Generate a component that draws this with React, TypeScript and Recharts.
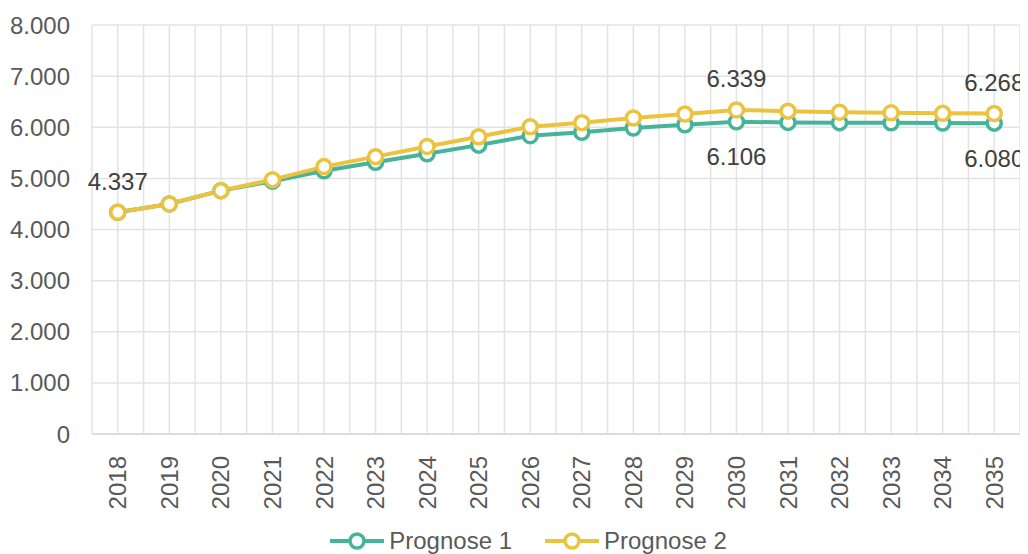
import React from 'react';
import { LineChart, Line, XAxis, YAxis, CartesianGrid, Legend, LabelList } from 'recharts';

const years = ['2018', '2019', '2020', '2021', '2022', '2023', '2024', '2025', '2026', '2027', '2028', '2029', '2030', '2031', '2032', '2033', '2034', '2035'];
const prognose1 = [4337, 4500, 4760, 4945, 5150, 5315, 5480, 5650, 5835, 5900, 5985, 6050, 6106, 6095, 6090, 6086, 6083, 6080];
const prognose2 = [4337, 4500, 4760, 4975, 5230, 5425, 5625, 5815, 6010, 6090, 6180, 6260, 6339, 6315, 6295, 6282, 6273, 6268];
const yTicks = [0, 1000, 2000, 3000, 4000, 5000, 6000, 7000, 8000];
const labelsAbove2 = [0, 12, 17];
const labelsBelow1 = [12, 17];

const GREEN = '#46B49A';
const YELLOW = '#EBC33F';
const TEXT = '#595959';
const GRID = '#E3E3E3';
const FONT = '"Liberation Sans", Arial, sans-serif';
const FS = 24;

const data = years.map((y, i) => ({ year: y, p1: prognose1[i], p2: prognose2[i] }));

const fmt = (v: number) => {
  const s = Math.round(v).toString();
  return s.replace(/\B(?=(\d{3})+(?!\d))/g, '.');
};

const XTick = (props: any) => {
  const { x, y, payload } = props;
  return (
    <text
      x={x}
      y={y + 14}
      transform={`rotate(-90, ${x}, ${y + 14})`}
      textAnchor="end"
      dominantBaseline="central"
      fill={TEXT}
      fontSize={FS}
      fontFamily={FONT}
    >
      {payload.value}
    </text>
  );
};

const makeLabel = (indices: number[], dy: number) => (props: any) => {
  const { x, y, value, index } = props;
  if (!indices.includes(index)) return null;
  return (
    <text
      x={x}
      y={y + dy}
      textAnchor="middle"
      dominantBaseline="central"
      fill="#404040"
      fontSize={FS}
      fontFamily={FONT}
    >
      {fmt(value)}
    </text>
  );
};

const LegendContent = () => {
  const items = [
    { name: 'Prognose 1', color: GREEN },
    { name: 'Prognose 2', color: YELLOW },
  ];
  return (
    <div style={{ display: 'flex', justifyContent: 'center', alignItems: 'center', height: 30, boxSizing: 'border-box', paddingTop: 4, fontFamily: FONT, fontSize: FS, color: TEXT, paddingLeft: 28 }}>
      {items.map((it, i) => (
        <div key={it.name} style={{ display: 'flex', alignItems: 'center', marginLeft: i === 0 ? 0 : 32 }}>
          <svg width={56} height={20} style={{ marginRight: 4 }}>
            <line x1={1} y1={10} x2={55} y2={10} stroke={it.color} strokeWidth={4} />
            <circle cx={28} cy={10} r={7} fill="#fff" stroke={it.color} strokeWidth={3.5} />
          </svg>
          <span>{it.name}</span>
        </div>
      ))}
    </div>
  );
};

export default function App() {
  return (
    <div style={{ width: 1020, height: 546 }}>
      <LineChart width={1020} height={546} data={data} margin={{ top: 17, right: 8, bottom: 0, left: 0 }}>
        <CartesianGrid
          stroke={GRID}
          strokeWidth={1.5}
          verticalCoordinatesGenerator={({ offset }: any) =>
            Array.from({ length: years.length * 2 + 1 }, (_, i) => offset.left + (i * offset.width) / (years.length * 2))
          }
        />
        <XAxis
          dataKey="year"
          scale="band"
          interval={0}
          tick={<XTick />}
          tickLine={false}
          axisLine={{ stroke: '#D9D9D9', strokeWidth: 1.5 }}
          height={90}
        />
        <YAxis
          domain={[0, 8000]}
          ticks={yTicks}
          tickFormatter={fmt}
          tickLine={false}
          axisLine={false}
          tickSize={0}
          tickMargin={22}
          width={84}
          tick={{ fill: TEXT, fontSize: FS, fontFamily: FONT }}
        />
        <Legend verticalAlign="bottom" height={30} content={<LegendContent />} />
        <Line
          dataKey="p1"
          name="Prognose 1"
          stroke={GREEN}
          strokeWidth={4}
          dot={{ r: 7, fill: '#fff', stroke: GREEN, strokeWidth: 3.5 }}
          activeDot={false}
          isAnimationActive={false}
        >
          <LabelList dataKey="p1" content={makeLabel(labelsBelow1, 35)} />
        </Line>
        <Line
          dataKey="p2"
          name="Prognose 2"
          stroke={YELLOW}
          strokeWidth={4}
          dot={{ r: 7, fill: '#fff', stroke: YELLOW, strokeWidth: 3.5 }}
          activeDot={false}
          isAnimationActive={false}
        >
          <LabelList dataKey="p2" content={makeLabel(labelsAbove2, -31)} />
        </Line>
      </LineChart>
    </div>
  );
}
